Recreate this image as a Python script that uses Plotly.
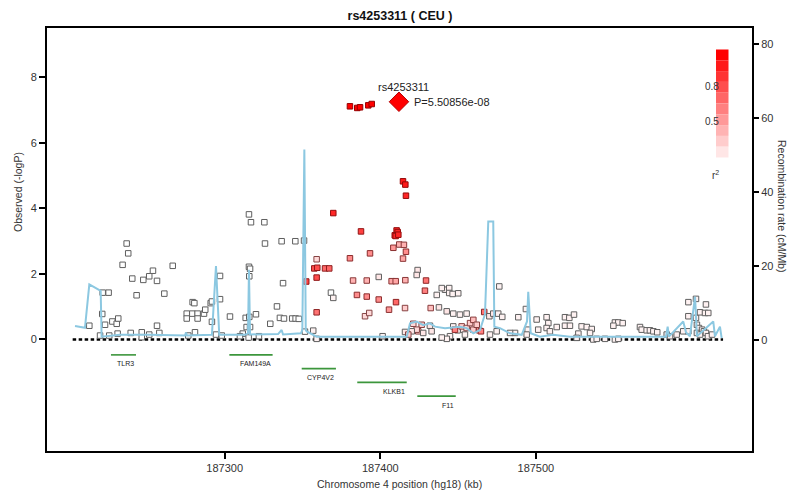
import plotly.graph_objects as go

# ---------------- data ----------------
# SNP positions (kb, hg18), -log10 P, and r^2 with the index SNP
grpA_kb = [187213.0, 187221.6, 187225.4, 187221.3, 187223.1, 187227.8, 187230.6, 187231.6, 187219.9, 187225.8, 187231.2,
           187237.0, 187238.0, 187234.4, 187240.6, 187243.4, 187247.7, 187251.5, 187253.9, 187256.5, 187261.2, 187266.6,
           187256.5, 187239.6, 187246.7, 187246.7, 187251.5, 187258.0,
           187275.6, 187279.2, 187282.6, 187286.7, 187275.6, 187282.6, 187287.5, 187279.4, 187280.5,
           187276.6, 187280.9,
           187291.0, 187291.8, 187297.0, 187297.0, 187291.8, 187294.4, 187298.1, 187303.4]
grpA_logp = [0.42, 1.43, 1.43, 0.78, 0.45, 0.55, 0.48, 0.64, 0.12, 0.12, 0.18,
             2.93, 2.63, 2.28, 1.86, 1.35, 1.82, 1.93, 2.10, 1.79, 1.40, 2.25,
             0.42, 0.20, 0.22, 0.07, 0.15, 0.20,
             0.79, 0.79, 0.79, 0.79, 0.64, 0.64, 0.91, 1.14, 1.11,
             0.12, 0.22,
             1.11, 1.16, 1.94, 1.23, 0.54, 0.15, 0.12, 0.70]
grpA_r2 = [0.0] * 47

grpB_kb = [187315.6, 187316.9, 187315.6, 187316.3, 187315.8, 187313.5, 187315.8, 187314.1, 187316.3, 187320.1,
           187311.6, 187309.8, 187315.4, 187322.0, 187325.5, 187325.9, 187336.6, 187345.4, 187351.0, 187337.5,
           187333.6, 187329.3, 187335.5, 187338.1, 187343.4, 187345.6, 187347.6, 187352.4, 187351.6, 187356.9,
           187359.1]
grpB_logp = [3.82, 3.58, 2.22, 2.16, 1.93, 0.66, 0.69, 0.38, 0.38, 0.77,
             0.18, 0.10, 0.06, 0.10, 3.58, 2.93, 3.00, 3.00, 3.02, 1.72,
             1.01, 0.48, 0.66, 0.64, 0.64, 0.64, 0.63, 1.77, 0.24, 0.27,
             0.02]
grpB_r2 = [0.0, 0.0, 0.0, 0.0, 0.0, 0.0, 0.0, 0.0, 0.0, 0.0,
           0.0, 0.0, 0.0, 0.0, 0.0, 0.0, 0.0, 0.0, 0.0, 0.0,
           0.0, 0.0, 0.0, 0.0, 0.0, 0.0, 0.0, 0.75, 0.0, 0.05,
           0.05]

grpC_kb = [187359.1, 187357.6, 187359.5, 187364.5, 187367.2, 187359.1, 187359.1, 187369.8, 187387.6, 187380.5,
           187368.3, 187369.8, 187382.5, 187391.3, 187385.0, 187391.3, 187399.0, 187393.4, 187399.0, 187390.2,
           187392.9, 187401.5, 187414.6, 187416.1, 187416.5, 187410.5, 187411.2, 187409.3, 187409.9, 187411.6,
           187408.4, 187412.2, 187415.2, 187416.5, 187414.6, 187407.3, 187409.9, 187416.1, 187410.1, 187405.6,
           187415.9, 187424.0, 187423.4, 187429.4, 187428.7, 187436.3, 187441.6, 187444.3, 187444.3, 187446.5,
           187450.1, 187439.5, 187432.4, 187437.7, 187442.7, 187446.9, 187451.2, 187455.5,
           187424.4, 187421.2, 187426.6, 187431.9, 187423.4, 187420.2, 187415.9, 187418.0, 187427.6, 187433.0,
           187446.9, 187449.7, 187453.3, 187454.4, 187444.8, 187442.7, 187439.5]
grpC_logp = [2.45, 2.17, 2.19, 2.17, 2.17, 1.89, 0.83, 3.86, 3.30, 2.48,
             1.43, 1.27, 1.80, 1.80, 1.36, 1.31, 1.22, 2.63, 1.91, 0.71,
             0.81, 0.10, 4.83, 4.73, 4.39, 3.33, 3.28, 3.18, 3.16, 3.20,
             2.80, 2.90, 2.89, 2.68, 2.47, 1.78, 1.78, 1.81, 1.14, 0.91,
             0.96, 2.12, 1.97, 1.80, 1.49, 1.36, 1.52, 1.57, 1.42, 1.39,
             1.41, 1.57, 0.96, 0.98, 0.86, 0.79, 0.76, 0.79,
             0.25, 0.48, 0.45, 0.42, 0.30, 0.25, 0.23, 0.15, 0.20, 0.25,
             0.40, 0.28, 0.30, 0.15, 0.10, 0.02, 0.06]
grpC_r2 = [0.15, 0.7, 0.7, 0.6, 0.6, 0.7, 0.55, 0.85, 0.75, 0.45,
           0.0, 0.05, 0.3, 0.3, 0.45, 0.45, 0.45, 0.45, 0.1, 0.15,
           0.15, 0.05, 0.9, 0.9, 0.85, 0.85, 0.85, 0.85, 0.85, 0.85,
           0.4, 0.3, 0.3, 0.45, 0.35, 0.35, 0.35, 0.3, 0.6, 0.4,
           0.2, 0.1, 0.1, 0.55, 0.5, 0.05, 0.05, 0.05, 0.05, 0.05,
           0.05, 0.05, 0.25, 0.1, 0.1, 0.05, 0.05, 0.05,
           0.2, 0.15, 0.2, 0.1, 0.15, 0.1, 0.1, 0.2, 0.1, 0.1,
           0.05, 0.05, 0.1, 0.05, 0.05, 0.05, 0.05]

grpD_kb = [187476.5, 187466.8, 187470.1, 187472.6, 187475.8, 187478.4, 187463.6, 187459.8, 187464.7, 187448.0,
           187488.7, 187493.6, 187500.5, 187506.9, 187508.0, 187501.5, 187506.9, 187509.0, 187513.4, 187494.7,
           187486.6, 187483.4, 187474.8, 187470.5, 187494.1, 187518.7, 187521.5, 187524.5, 187518.7, 187521.9,
           187529.4, 187532.7, 187535.9, 187534.8, 187536.9, 187539.1, 187527.3, 187526.2, 187550.8, 187553.0,
           187549.8, 187555.8, 187544.4, 187550.8, 187553.0, 187566.9, 187568.0, 187571.2, 187573.3, 187575.5,
           187578.0, 187584.1, 187586.2, 187590.5, 187594.7, 187598.0, 187598.0, 187602.9, 187609.3, 187598.0,
           187602.9, 187605.5, 187608.7, 187610.8, 187603.5, 187604.8, 187606.8, 187608.0, 187603.5, 187605.5,
           187609.3, 187610.6, 187613.2, 187452.3, 187455.5, 187457.7, 187459.8, 187462.0]
grpD_logp = [1.62, 0.84, 0.71, 0.79, 0.79, 0.69, 0.28, 0.30, 0.25, 0.30,
             0.68, 0.93, 0.61, 0.68, 0.50, 0.30, 0.35, 0.25, 0.38, 0.30,
             0.20, 0.20, 0.25, 0.15, 0.15, 0.68, 0.66, 0.76, 0.42, 0.42,
             0.40, 0.38, 0.32, 0.20, 0.00, 0.02, 0.18, 0.05, 0.52, 0.52,
             0.42, 0.50, 0.02, 0.00, 0.02, 0.38, 0.30, 0.28, 0.28, 0.25,
             0.22, 0.15, 0.10, 0.15, 0.25, 0.25, 1.14, 1.24, 1.07, 0.71,
             0.66, 0.83, 0.81, 0.81, 0.45, 0.35, 0.30, 0.25, 0.20, 0.15,
             0.20, 0.10, 0.15, 0.40, 0.35, 0.50, 0.60, 0.45]
grpD_r2 = [0.05, 0.55, 0.1, 0.1, 0.05, 0.05, 0.4, 0.2, 0.5, 0.5,
           0.05, 0.05, 0.05, 0.05, 0.05, 0.05, 0.05, 0.05, 0.05, 0.05,
           0.05, 0.05, 0.05, 0.05, 0.05, 0.05, 0.05, 0.05, 0.05, 0.05,
           0.05, 0.05, 0.05, 0.05, 0.05, 0.05, 0.05, 0.05, 0.05, 0.05,
           0.05, 0.05, 0.05, 0.05, 0.05, 0.05, 0.05, 0.05, 0.05, 0.05,
           0.05, 0.05, 0.05, 0.05, 0.05, 0.05, 0.05, 0.05, 0.05, 0.05,
           0.05, 0.05, 0.05, 0.05, 0.05, 0.05, 0.05, 0.05, 0.05, 0.05,
           0.05, 0.05, 0.05, 0.2, 0.15, 0.2, 0.25, 0.2]

top_kb = [187380.5, 187385.2, 187387.0, 187392.3, 187394.5]
top_logp = [7.12, 7.07, 7.09, 7.15, 7.19]
top_r2 = [1.0, 1.0, 1.0, 1.0, 1.0]

index_snp = "rs4253311"
index_kb = 187412.0
index_p = 5.50856e-08
index_logp = 7.259

# recombination rate (cM/Mb)
recomb_kb = [187203.8, 187210.2, 187213.0, 187220.3, 187220.9, 187232.7, 187252.0, 187274.5, 187275.1, 187275.8,
             187291.8, 187294.4, 187296.5, 187313.0, 187315.0, 187315.6, 187316.3, 187334.3, 187336.6, 187337.5,
             187349.0, 187349.9, 187351.2, 187352.1, 187352.7, 187359.1, 187417.0, 187419.1, 187423.4, 187427.6,
             187431.9, 187435.2, 187441.6, 187449.1, 187451.2, 187455.5, 187459.8, 187464.1, 187467.3, 187469.4,
             187472.6, 187473.3, 187476.9, 187483.4, 187490.9, 187494.3, 187495.1, 187496.7, 187502.6, 187511.0,
             187521.9, 187583.6, 187584.7, 187585.5, 187594.7, 187596.5, 187599.0, 187602.3, 187603.5, 187614.0,
             187615.1, 187618.3, 187619.4]
recomb_rate = [3.8, 3.3, 15.0, 13.3, 0.9, 1.4, 1.4, 1.2, 2.0, 1.2,
               1.4, 20.0, 1.4, 1.4, 1.8, 19.0, 1.5, 1.6, 2.7, 1.5,
               1.8, 2.7, 51.5, 2.7, 2.3, 0.9, 0.9, 4.5, 5.0, 4.0,
               4.5, 3.6, 3.2, 3.6, 3.6, 3.2, 1.8, 2.7, 7.0, 32.0,
               32.0, 3.6, 3.2, 1.8, 1.4, 5.0, 13.0, 1.8, 0.9, 1.4,
               0.9, 0.9, 3.6, 0.9, 5.0, 2.0, 1.0, 11.7, 1.0, 5.0,
               1.0, 3.6, 0.5]

region_kb = [187202.3, 187620.3]

gene_names = ["TLR3", "FAM149A", "CYP4V2", "KLKB1", "F11"]
gene_start = [187226.9, 187303.0, 187349.5, 187385.2, 187423.8]
gene_end = [187243.0, 187330.8, 187371.5, 187417.0, 187448.5]
gene_row = [0, 0, 1, 2, 3]

x_ticks = [187300, 187400, 187500]
y_ticks = [0, 2, 4, 6, 8]
y2_ticks = [0, 20, 40, 60, 80]
legend_labels = ["0.8", "0.5"]

# ---------------- styling helpers ----------------
FONT = "Liberation Sans, Arial, sans-serif"
PAGE_W, PAGE_H = 800, 503
OFF = 8  # default body margin of the html page
W, H = PAGE_W - OFF, PAGE_H - OFF
PL, PT, PR, PB = 47, 28, 752, 451   # plot box in page pixels
L, T, R, B = PL - OFF, PT - OFF, PAGE_W - PR, PAGE_H - PB
PW, PH = PR - PL, PB - PT


def px_x(px):
    return (px - PL) / PW


def px_y(py):
    return (PB - py) / PH


def fill_col(r2):
    g = int(round(255 * (1 - r2)))
    return f"rgb(255,{g},{g})"


def edge_col(r2):
    if r2 < 0.12:
        return "rgb(95,95,95)"
    r = int(130 + 20 * r2)
    g = int(80 * (1 - r2))
    return f"rgb({r},{g},{g})"


snp_kb = grpA_kb + grpB_kb + grpC_kb + grpD_kb + top_kb
snp_logp = grpA_logp + grpB_logp + grpC_logp + grpD_logp + top_logp
snp_r2 = grpA_r2 + grpB_r2 + grpC_r2 + grpD_r2 + top_r2

fig = go.Figure()

# recombination rate line
fig.add_trace(go.Scatter(x=recomb_kb, y=recomb_rate, yaxis="y2", mode="lines",
                         line=dict(color="rgb(140,200,225)", width=2), hoverinfo="skip"))

# baseline
fig.add_trace(go.Scatter(x=region_kb, y=[0, 0], mode="lines",
                         line=dict(color="black", width=2.5, dash="3.5px,2.5px"), hoverinfo="skip"))

# genes
for name, s, e, row in zip(gene_names, gene_start, gene_end, gene_row):
    gy = -0.47 - 0.42 * row
    fig.add_trace(go.Scatter(x=[s, e], y=[gy, gy], mode="lines",
                             line=dict(color="rgb(60,150,60)", width=1.6), hoverinfo="skip"))
    fig.add_annotation(x=e, y=gy, text=name, showarrow=False, xanchor="right", yanchor="middle",
                       yshift=-9, font=dict(family=FONT, size=7, color="#222"))

# SNPs
fig.add_trace(go.Scatter(x=snp_kb, y=snp_logp, mode="markers",
                         marker=dict(symbol="square", size=5.5,
                                     color=[fill_col(r) for r in snp_r2],
                                     line=dict(color=[edge_col(r) for r in snp_r2], width=1))))

# index SNP
fig.add_trace(go.Scatter(x=[index_kb], y=[index_logp], mode="markers",
                         marker=dict(symbol="diamond", size=15, color="rgb(255,0,0)",
                                     line=dict(color="rgb(180,0,0)", width=1))))
fig.add_annotation(x=index_kb, y=index_logp, text=index_snp, showarrow=False, yshift=15, xshift=5,
                   font=dict(family=FONT, size=11, color="#222"))
fig.add_annotation(x=index_kb, y=index_logp, text=f"P={index_p:.5e}", showarrow=False,
                   xanchor="left", xshift=13, font=dict(family=FONT, size=11, color="#222"))

# r^2 legend bar
shapes = []
nstep = 10
top_px, bot_px = 49.5, 157.5
step = (bot_px - top_px) / nstep
for i in range(nstep):
    r2 = 1 - i * (0.9 / (nstep - 1))
    shapes.append(dict(type="rect", xref="paper", yref="paper",
                       x0=px_x(716), x1=px_x(728.5),
                       y0=px_y(top_px + (i + 1) * step), y1=px_y(top_px + i * step),
                       fillcolor=fill_col(r2), line=dict(width=0), layer="above"))
for lab, py in zip(legend_labels, [78.5, 113.5]):
    fig.add_annotation(xref="paper", yref="paper", x=px_x(721), y=px_y(py), text=lab, showarrow=False,
                       font=dict(family=FONT, size=10, color="#333"))
fig.add_annotation(xref="paper", yref="paper", x=px_x(721), y=px_y(175), text="r<sup>2</sup>", showarrow=False,
                   font=dict(family=FONT, size=10, color="#333"))

# axis titles
fig.add_annotation(xref="paper", yref="paper", x=px_x(10), y=px_y(192), text="Observed (-logP)", textangle=-90,
                   showarrow=False, font=dict(family=FONT, size=10.5, color="#333"))
fig.add_annotation(xref="paper", yref="paper", x=px_x(790), y=px_y(206), text="Recombination rate (cM/Mb)",
                   textangle=90, showarrow=False, font=dict(family=FONT, size=10.5, color="#333"))
fig.add_annotation(xref="paper", yref="paper", x=px_x(399.5), y=px_y(492), text="Chromosome 4 position (hg18) (kb)",
                   showarrow=False, font=dict(family=FONT, size=10.5, color="#333"))

axis_common = dict(showgrid=False, zeroline=False, ticks="outside", ticklen=6, tickwidth=2, tickcolor="black",
                   automargin=False, tickfont=dict(family=FONT, size=11, color="#333"))

fig.update_layout(
    width=W, height=H, margin=dict(l=L, r=R, t=T, b=B, autoexpand=False),
    plot_bgcolor="white", paper_bgcolor="white", showlegend=False,
    title=dict(text="<b>rs4253311 ( CEU )</b>", x=(400 - OFF) / W, xanchor="center", y=1 - (16 - OFF) / H,
               yanchor="middle", yref="container", automargin=False,
               font=dict(family=FONT, size=12.5, color="#111")),
    xaxis=dict(range=[187185.8, 187638.9], tickvals=x_ticks, ticktext=[str(v) for v in x_ticks],
               showline=True, linewidth=2, linecolor="black", mirror=True, **axis_common),
    yaxis=dict(range=[-3.405, 9.511], tickvals=y_ticks, showline=True, linewidth=2, linecolor="black",
               mirror=True, **axis_common),
    yaxis2=dict(range=[-30.0, 84.3], tickvals=y2_ticks, overlaying="y", side="right", showline=False,
                **axis_common),
    shapes=shapes,
)

fig.write_html("out.html")
